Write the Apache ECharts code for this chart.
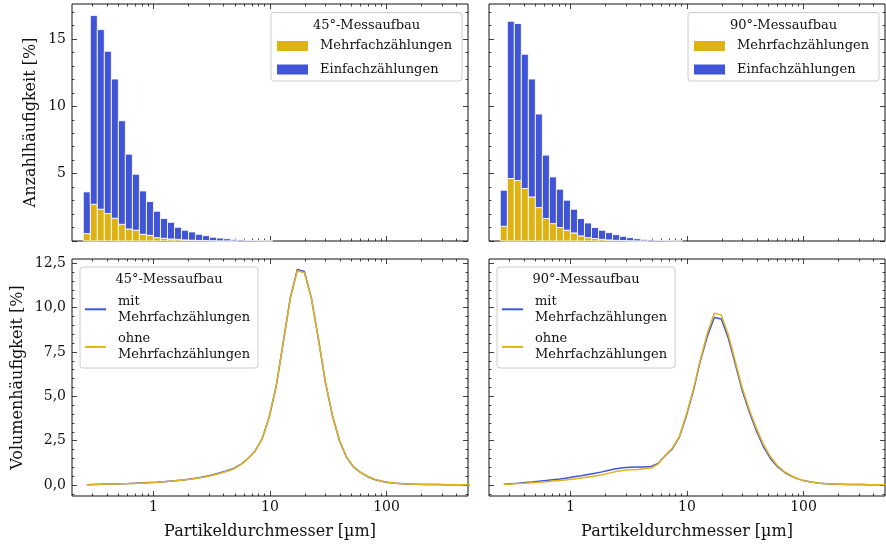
<!DOCTYPE html>
<html><head><meta charset="utf-8">
<script src="https://cdn.jsdelivr.net/npm/echarts@6/dist/echarts.min.js"></script>
<style>html,body{margin:0;padding:0;background:#fff}#c{width:886px;height:547px}</style>
</head><body><div id="c"></div>
<script>
// ---- data ----
const binEdges = [0.25,0.2872,0.3299,0.3789,0.4353,0.5,0.5743,0.6598,0.7579,0.8706,1,1.1487,1.3195,1.5157,1.7411,2,2.2974,2.6390,3.0314,3.4822,4,4.5948,5.2780,6.0629,6.9644,8,9.1896,10.556];
const mehrfach45 = [0.55,2.73,2.36,2.04,1.69,1.24,0.89,0.80,0.50,0.42,0.25,0.20,0.15,0.12,0.08,0.06,0.04,0.03,0.02,0.01,0.01,0.01,0,0,0,0,0];
const einfach45  = [3.10,14.01,13.34,12.05,10.34,7.69,5.56,4.16,3.22,2.51,1.96,1.47,1.24,0.90,0.72,0.61,0.46,0.37,0.26,0.21,0.16,0.11,0.08,0.05,0.03,0.02,0.01];
const mehrfach90 = [1.09,4.64,4.49,3.90,3.27,2.48,1.67,1.29,1.00,0.80,0.60,0.38,0.25,0.18,0.12,0.08,0.05,0.03,0.02,0.01,0.01,0,0,0,0,0];
const einfach90  = [2.68,11.68,11.66,9.97,8.76,6.95,4.71,3.47,2.85,2.23,1.76,1.29,1.09,0.82,0.68,0.54,0.42,0.32,0.23,0.16,0.11,0.08,0.05,0.03,0.02,0.01];

const diameters = [0.268,0.308,0.354,0.406,0.467,0.536,0.616,0.707,0.812,0.933,1.072,1.231,1.414,1.625,1.866,2.144,2.462,2.828,3.249,3.732,4.287,4.925,5.657,6.498,7.464,8.574,9.849,11.31,13.00,14.93,17.15,19.70,22.63,25.99,29.86,34.30,39.40,45.25,51.98,59.71,68.59,78.79,90.51,104.0,119.4,137.2,157.6,181.0,207.9,238.9,274.4,315.2,362.0,415.9,477.7,548.7];
const ohne45 = [0.02,0.03,0.04,0.05,0.06,0.07,0.08,0.09,0.11,0.13,0.15,0.18,0.21,0.25,0.29,0.34,0.40,0.47,0.55,0.66,0.77,0.92,1.16,1.50,1.92,2.63,3.85,5.60,8.05,10.50,12.08,11.97,10.53,8.27,5.83,3.95,2.54,1.60,1.03,0.72,0.49,0.32,0.22,0.15,0.10,0.07,0.05,0.04,0.04,0.03,0.03,0.03,0.02,0.02,0.02,0.02];
const mit45  = [0.02,0.03,0.04,0.05,0.06,0.07,0.08,0.10,0.12,0.14,0.16,0.19,0.22,0.26,0.30,0.35,0.41,0.49,0.58,0.69,0.80,0.95,1.18,1.51,1.92,2.62,3.83,5.58,8.05,10.55,12.15,12.04,10.55,8.25,5.80,3.92,2.51,1.58,1.02,0.71,0.48,0.31,0.21,0.14,0.10,0.07,0.05,0.04,0.03,0.03,0.03,0.02,0.02,0.02,0.02,0.02];
const mit90  = [0.04,0.07,0.10,0.14,0.17,0.21,0.25,0.30,0.34,0.40,0.46,0.52,0.59,0.66,0.74,0.83,0.91,0.97,1.00,1.01,1.01,1.04,1.22,1.65,2.03,2.68,3.88,5.28,6.98,8.37,9.44,9.36,8.27,6.81,5.30,4.10,3.06,2.16,1.50,1.03,0.72,0.49,0.33,0.22,0.15,0.10,0.07,0.05,0.04,0.03,0.03,0.03,0.02,0.02,0.02,0.02];
const ohne90 = [0.03,0.05,0.08,0.10,0.13,0.16,0.19,0.22,0.25,0.29,0.34,0.39,0.45,0.51,0.58,0.67,0.76,0.82,0.86,0.88,0.91,0.96,1.18,1.67,2.07,2.72,3.95,5.36,7.05,8.55,9.68,9.59,8.46,6.96,5.45,4.23,3.20,2.29,1.60,1.09,0.75,0.51,0.34,0.23,0.15,0.10,0.07,0.05,0.04,0.03,0.03,0.03,0.02,0.02,0.02,0.02];

const xMajor = [1, 10, 100];
const xMinor = [0.3,0.4,0.5,0.6,0.7,0.8,0.9,2,3,4,5,6,7,8,9,20,30,40,50,60,70,80,90,200,300,400];
const yTopMajor = [0, 5, 10, 15];
const yTopLabels = [5, 10, 15];
const yTopMinor = [1,2,3,4,6,7,8,9,11,12,13,14,16,17];
const yBotMajor = [0, 2.5, 5, 7.5, 10, 12.5];
const yBotMinor = [-0.5,0.5,1,1.5,2,3,3.5,4,4.5,5.5,6,6.5,7,8,8.5,9,9.5,10.5,11,11.5,12];

// ---- style ----
const BLUE = '#4054d6', YELLOW = '#dfb213';
const LBLUE = '#3f56da', LYELLOW = '#e3b31a';
const FONT = 'DejaVu Serif';
const TXT = '#111';

const grids = [
  {left: 72, top: 4, width: 396, height: 237},
  {left: 489, top: 4, width: 396, height: 237},
  {left: 72, top: 259, width: 396, height: 237},
  {left: 489, top: 259, width: 396, height: 237}
].map(g => Object.assign(g, {show: true, borderColor: '#111', borderWidth: 1, backgroundColor: 'transparent'}));

const xAxis = [], yAxis = [];
function tick(vals, len) {
  return {show: true, inside: true, length: len, customValues: vals, lineStyle: {color: '#111', width: 0.8}};
}
function addX(gi, showLabels) {
  const base = {type: 'log', logBase: 10, min: 0.2, max: 500, gridIndex: gi,
    axisLine: {show: false, onZero: false}, splitLine: {show: false}};
  const main = xAxis.length;
  xAxis.push(Object.assign({}, base, {position: 'bottom', axisTick: tick(xMajor, 5),
    axisLabel: {show: showLabels, customValues: xMajor, margin: 4, fontFamily: FONT, fontSize: 14, color: TXT, formatter: v => String(v)},
    name: showLabels ? 'Partikeldurchmesser [µm]' : '', nameLocation: 'middle', nameGap: 28,
    nameTextStyle: {fontFamily: FONT, fontSize: 16, color: TXT}}));
  xAxis.push(Object.assign({}, base, {position: 'top', axisTick: tick(xMajor, 5), axisLabel: {show: false}}));
  xAxis.push(Object.assign({}, base, {position: 'bottom', axisTick: tick(xMinor, 2.5), axisLabel: {show: false}}));
  xAxis.push(Object.assign({}, base, {position: 'top', axisTick: tick(xMinor, 2.5), axisLabel: {show: false}}));
  return main;
}
function addY(gi, min, max, major, labels, minor, showLabels, name, nameGap, fmt) {
  const base = {type: 'value', min: min, max: max, gridIndex: gi,
    axisLine: {show: false, onZero: false}, splitLine: {show: false}};
  const main = yAxis.length;
  yAxis.push(Object.assign({}, base, {position: 'left', axisTick: tick(major, 5),
    axisLabel: {show: showLabels, customValues: labels, margin: 6, fontFamily: FONT, fontSize: 14, color: TXT, formatter: fmt},
    name: showLabels ? name : '', nameLocation: 'middle', nameGap: nameGap, nameRotate: 90,
    nameTextStyle: {fontFamily: FONT, fontSize: 16, color: TXT}}));
  yAxis.push(Object.assign({}, base, {position: 'right', axisTick: tick(major, 5), axisLabel: {show: false}}));
  yAxis.push(Object.assign({}, base, {position: 'left', axisTick: tick(minor, 2.5), axisLabel: {show: false}}));
  yAxis.push(Object.assign({}, base, {position: 'right', axisTick: tick(minor, 2.5), axisLabel: {show: false}}));
  return main;
}
const fmtInt = v => String(v);
const fmtDec = v => v.toFixed(1).replace('.', ',');

const ax = [];
ax.push([addX(0, false), addY(0, 0, 17.6, yTopMajor, yTopLabels, yTopMinor, true, 'Anzahlhäufigkeit [%]', 33, fmtInt)]);
ax.push([addX(1, false), addY(1, 0, 17.6, yTopMajor, yTopLabels, yTopMinor, false, '', 0, fmtInt)]);
ax.push([addX(2, true), addY(2, -0.62, 12.74, yBotMajor, yBotMajor, yBotMinor, true, 'Volumenhäufigkeit [%]', 46, fmtDec)]);
ax.push([addX(3, true), addY(3, -0.62, 12.74, yBotMajor, yBotMajor, yBotMinor, false, '', 0, fmtDec)]);

function renderBar(params, api) {
  const lo = api.value(0), hi = api.value(1), b = api.value(2), t = api.value(3);
  if (!(t > b)) return null;
  const p0 = api.coord([lo, t]);
  const p1 = api.coord([hi, b]);
  const cs = params.coordSys;
  const shape = echarts.graphic.clipRectByRect(
    {x: p0[0], y: p0[1], width: p1[0] - p0[0], height: p1[1] - p0[1]},
    {x: cs.x, y: cs.y, width: cs.width, height: cs.height});
  return shape && {type: 'rect', shape: shape,
    style: {fill: api.visual('color'), stroke: 'rgba(255,255,255,0.85)', lineWidth: 1}};
}
function barData(bottomVals, topVals) {
  return topVals.map((v, i) => {
    const base = bottomVals ? bottomVals[i] : 0;
    return [binEdges[i], binEdges[i + 1], base, base + v];
  });
}
function barSeries(name, color, gi, data) {
  return {type: 'custom', name: name, xAxisIndex: ax[gi][0], yAxisIndex: ax[gi][1],
    color: color, itemStyle: {color: color}, renderItem: renderBar,
    dimensions: ['lo', 'hi', 'base', 'top'], encode: {x: [0, 1], y: [2, 3]}, data: data, z: 2};
}
function lineSeries(name, color, gi, vals) {
  return {type: 'line', name: name, xAxisIndex: ax[gi][0], yAxisIndex: ax[gi][1],
    color: color, showSymbol: false, symbol: 'none', clip: true,
    lineStyle: {color: color, width: 1.5}, data: vals.map((v, i) => [diameters[i], v]), z: 2};
}

const N_M = 'Mehrfachzählungen', N_E = 'Einfachzählungen';
const N_MIT = 'mit\nMehrfachzählungen', N_OHNE = 'ohne\nMehrfachzählungen';

const series = [
  barSeries(N_M, YELLOW, 0, barData(null, mehrfach45)),
  barSeries(N_E, BLUE, 0, barData(mehrfach45, einfach45)),
  barSeries(N_M, YELLOW, 1, barData(null, mehrfach90)),
  barSeries(N_E, BLUE, 1, barData(mehrfach90, einfach90)),
  lineSeries(N_MIT, LBLUE, 2, mit45),
  lineSeries(N_OHNE, LYELLOW, 2, ohne45),
  lineSeries(N_MIT, LBLUE, 3, mit90),
  lineSeries(N_OHNE, LYELLOW, 3, ohne90)
];

const legTxt = {fontFamily: FONT, fontSize: 13, color: TXT, lineHeight: 16, padding: [0, 0, 0, 7]};
function topLegend(left) {
  return {show: true, left: left, top: 38, orient: 'vertical', padding: 0, itemGap: 7.5,
    itemWidth: 31, itemHeight: 10, icon: 'rect', selectedMode: false, data: [N_M, N_E],
    textStyle: legTxt};
}
function botLegend(left) {
  return {show: true, left: left, top: 293, orient: 'vertical', padding: 0, itemGap: 5,
    itemWidth: 21, itemHeight: 2, icon: 'rect', selectedMode: false, data: [N_MIT, N_OHNE],
    textStyle: Object.assign({}, legTxt, {lineHeight: 16.3})};
}

function box(x, y, w, h) {
  return {type: 'rect', z: 3, shape: {x: x, y: y, width: w, height: h, r: 3},
    style: {fill: 'rgba(255,255,255,0.85)', stroke: '#cccccc', lineWidth: 1}};
}
function title(cx, cy, t) {
  return {type: 'text', z: 4, x: cx, y: cy,
    style: {text: t, fontFamily: FONT, fontSize: 13, fill: TXT, align: 'center', verticalAlign: 'middle'}};
}

const chart = echarts.init(document.getElementById('c'), null, {renderer: 'canvas'});
chart.setOption({
  animation: false,
  backgroundColor: '#fff',
  grid: grids,
  xAxis: xAxis,
  yAxis: yAxis,
  legend: [topLegend(277), topLegend(694), botLegend(85), botLegend(502)],
  graphic: {elements: [
    box(271, 12.5, 191, 68.5), title(366.5, 25.5, '45°-Messaufbau'),
    box(688, 12.5, 191, 68.5), title(783.5, 25.5, '90°-Messaufbau'),
    box(80, 267, 178, 101), title(169, 279.5, '45°-Messaufbau'),
    box(497, 267, 178, 101), title(586, 279.5, '90°-Messaufbau')
  ]},
  series: series
});
</script></body></html>
